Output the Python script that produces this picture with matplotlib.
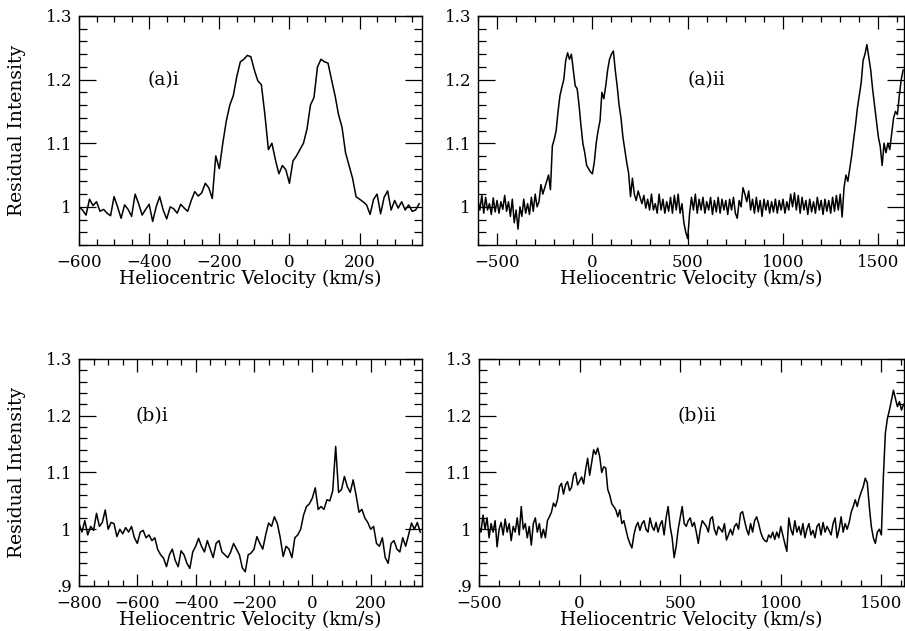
import matplotlib
matplotlib.use("Agg")
import matplotlib.pyplot as plt
import numpy as np
from matplotlib.ticker import MultipleLocator, FuncFormatter

plt.rcParams['font.family'] = ['DejaVu Serif']

# (a)i  -- velocity grid starts at -600 km/s, 10 km/s channels
a1_start, a1_step = -600, 10
a1_flux = [
    1.000, 0.995, 0.987, 1.012, 1.002, 1.008, 0.993, 0.996, 0.990, 0.986,
    1.016, 1.000, 0.982, 1.003, 0.996, 0.985, 1.020, 1.005, 0.987, 0.996,
    1.004, 0.977, 1.000, 1.016, 0.995, 0.981, 1.000, 0.997, 0.990, 1.004,
    0.998, 0.993, 1.010, 1.024, 1.017, 1.022, 1.037, 1.030, 1.013, 1.080,
    1.060, 1.100, 1.135, 1.160, 1.175, 1.205, 1.228, 1.232, 1.238, 1.236,
    1.215, 1.198, 1.192, 1.145, 1.090, 1.100, 1.074, 1.052, 1.065, 1.058,
    1.037, 1.072, 1.080, 1.090, 1.100, 1.122, 1.160, 1.172, 1.220, 1.232,
    1.228, 1.226, 1.200, 1.175, 1.145, 1.125, 1.085, 1.065, 1.045, 1.016,
    1.012, 1.008, 1.003, 0.988, 1.012, 1.020, 0.989, 1.015, 1.025, 0.995,
    1.010, 0.998, 1.008, 0.995, 1.003, 0.993, 0.995, 1.005,
]

# (a)ii
a2_start, a2_step = -600, 10
a2_flux = [
    1.010, 0.995, 1.018, 0.990, 1.015, 0.995, 1.005, 0.988, 1.014, 0.992,
    1.010, 0.990, 1.008, 0.996, 1.018, 0.993, 1.008, 0.985, 1.012, 0.975,
    0.995, 0.965, 1.000, 0.985, 1.012, 0.990, 1.005, 0.988, 1.015, 0.993,
    1.020, 1.000, 1.008, 1.035, 1.020, 1.030, 1.040, 1.050, 1.027, 1.096,
    1.106, 1.120, 1.150, 1.175, 1.188, 1.200, 1.230, 1.242, 1.232, 1.240,
    1.215, 1.190, 1.186, 1.160, 1.128, 1.100, 1.085, 1.065, 1.060, 1.055,
    1.052, 1.070, 1.100, 1.120, 1.135, 1.180, 1.170, 1.190, 1.215, 1.232,
    1.240, 1.245, 1.215, 1.190, 1.160, 1.140, 1.110, 1.090, 1.070, 1.053,
    1.016, 1.045, 1.020, 1.010, 1.025, 1.015, 1.005, 1.018, 0.998, 1.012,
    0.995, 1.020, 0.995, 1.005, 0.990, 1.020, 0.995, 1.012, 0.990, 1.008,
    0.993, 1.015, 0.990, 1.018, 0.995, 1.020, 0.990, 1.005, 0.975, 0.960,
    0.950, 0.990, 1.015, 0.995, 1.020, 0.990, 1.012, 0.995, 1.015, 0.990,
    1.008, 0.995, 1.015, 0.988, 1.010, 0.992, 1.015, 0.990, 1.012, 0.995,
    1.010, 0.988, 1.012, 0.995, 1.015, 0.990, 0.982, 1.010, 1.000, 1.030,
    1.020, 1.008, 1.025, 0.995, 1.012, 0.990, 1.015, 0.992, 1.010, 0.985,
    1.012, 0.995, 1.010, 0.990, 1.008, 0.992, 1.012, 0.990, 1.010, 0.995,
    1.012, 0.990, 1.008, 0.995, 1.020, 1.000, 1.022, 0.995, 1.018, 0.990,
    1.015, 0.995, 1.010, 0.988, 1.012, 0.992, 1.008, 0.990, 1.015, 0.995,
    1.010, 0.988, 1.012, 0.993, 1.010, 0.990, 1.015, 0.993, 1.018, 0.995,
    1.020, 0.984, 1.030, 1.050, 1.040, 1.060, 1.080, 1.105, 1.128, 1.155,
    1.175, 1.195, 1.230, 1.240, 1.255, 1.235, 1.215, 1.185, 1.160, 1.135,
    1.110, 1.095, 1.065, 1.100, 1.085, 1.100, 1.090, 1.115, 1.140, 1.150,
    1.145, 1.175, 1.200, 1.215,
]

# (b)i
b1_start, b1_step = -800, 10
b1_flux = [
    1.010, 0.995, 1.015, 0.990, 1.005, 0.998, 1.028, 1.005, 1.012, 1.034,
    1.000, 1.012, 1.010, 0.987, 1.000, 0.992, 1.003, 0.995, 1.005, 0.985,
    0.975, 0.995, 0.998, 0.985, 0.990, 0.980, 0.985, 0.964, 0.955, 0.949,
    0.934, 0.955, 0.965, 0.945, 0.934, 0.962, 0.955, 0.940, 0.931, 0.960,
    0.970, 0.984, 0.970, 0.960, 0.980, 0.965, 0.950, 0.975, 0.980, 0.960,
    0.955, 0.950, 0.960, 0.975, 0.965, 0.955, 0.932, 0.925, 0.955, 0.958,
    0.965, 0.987, 0.975, 0.965, 0.990, 1.011, 1.005, 1.022, 1.010, 0.985,
    0.952, 0.970, 0.965, 0.950, 0.985, 0.990, 1.000, 1.025, 1.040, 1.045,
    1.055, 1.073, 1.035, 1.040, 1.035, 1.052, 1.050, 1.068, 1.146, 1.065,
    1.070, 1.093, 1.075, 1.065, 1.087, 1.060, 1.030, 1.035, 1.020, 1.012,
    1.000, 1.005, 0.975, 0.970, 0.985, 0.950, 0.940, 0.975, 0.980, 0.965,
    0.960, 0.985, 0.970, 0.990, 1.011, 1.000, 1.012, 0.995,
]

# (b)ii
b2_start, b2_step = -500, 10
b2_flux = [
    1.005, 0.995, 1.025, 1.000, 1.020, 0.985, 1.010, 0.995, 1.015, 0.969,
    1.000, 1.012, 0.990, 1.018, 0.995, 1.010, 0.980, 1.005, 0.995, 1.020,
    0.990, 1.040, 1.000, 1.010, 0.985, 1.005, 0.972, 1.010, 1.020, 0.995,
    1.010, 0.985, 1.000, 0.985, 1.015, 1.022, 1.030, 1.046, 1.040, 1.052,
    1.075, 1.081, 1.062, 1.078, 1.084, 1.068, 1.074, 1.095, 1.100, 1.078,
    1.085, 1.092, 1.080, 1.105, 1.125, 1.095, 1.118, 1.140, 1.132, 1.143,
    1.128, 1.100, 1.110, 1.108, 1.070, 1.060, 1.045, 1.040, 1.034, 1.022,
    1.034, 1.010, 1.015, 1.000, 0.985, 0.975, 0.967, 0.990, 1.005, 1.012,
    0.998, 1.010, 1.015, 1.000, 0.995, 1.020, 1.005, 0.998, 1.012, 0.995,
    1.008, 1.015, 0.990, 1.020, 1.040, 1.005, 0.985, 0.950, 0.970, 1.000,
    1.020, 1.040, 1.010, 1.005, 1.015, 1.020, 1.005, 1.012, 0.995, 0.975,
    1.000, 1.015, 1.010, 1.005, 0.995, 1.018, 1.022, 1.000, 0.990, 1.005,
    1.000, 0.995, 1.010, 0.981, 0.990, 1.000, 0.990, 1.005, 1.010, 1.000,
    1.028, 1.031, 1.015, 1.000, 0.990, 1.010, 0.995, 1.015, 1.022, 1.010,
    0.995, 0.985, 0.980, 0.978, 0.990, 0.985, 0.995, 0.982, 0.995, 0.985,
    1.005, 0.990, 0.975, 0.961, 1.020, 1.000, 0.990, 1.015, 0.995, 1.005,
    0.990, 1.010, 0.985, 1.000, 1.010, 0.990, 0.998, 0.985, 1.005, 1.010,
    0.990, 1.012, 0.995, 1.005, 0.998, 0.990, 1.010, 1.020, 0.985, 1.000,
    1.022, 0.995, 1.010, 1.000, 1.012, 1.030, 1.040, 1.052, 1.040, 1.055,
    1.066, 1.075, 1.090, 1.082, 1.040, 1.005, 0.985, 0.975, 0.995, 1.000,
    0.990, 1.093, 1.170, 1.195, 1.210, 1.227, 1.245, 1.230, 1.216, 1.225,
    1.210, 1.220,
]

W, H = 905, 631
fig = plt.figure(figsize=(W / 100, H / 100), dpi=100)


def box(l, t, r, b):
    return [l / W, 1 - b / H, (r - l) / W, (b - t) / H]


def yfmt(v, pos):
    s = ('%.1f' % v)
    if s.endswith('.0'):
        s = s[:-2]
    if s.startswith('0'):
        s = s[1:]
    return s


panels = [
    (box(79, 16, 422, 245), a1_start, a1_step, a1_flux, (-600, 378), (0.94, 1.3), 200, 50, '(a)i', -358, True),
    (box(478, 16, 903.5, 245), a2_start, a2_step, a2_flux, (-600, 1632), (0.94, 1.3), 500, 100, '(a)ii', 597, False),
    (box(79, 359, 422, 586), b1_start, b1_step, b1_flux, (-800, 376), (0.9, 1.3), 200, 50, '(b)i', -550, True),
    (box(479, 359, 903.5, 586), b2_start, b2_step, b2_flux, (-500, 1610), (0.9, 1.3), 500, 100, '(b)ii', 581, False),
]

for rect, v0, dv, flux, xl, yl, xmaj, xmin, tag, tx, left in panels:
    ax = fig.add_axes(rect)
    vel = v0 + dv * np.arange(len(flux))
    ax.plot(vel, flux, color='black', lw=1.1)
    ax.set_xlim(*xl)
    ax.set_ylim(*yl)
    ax.xaxis.set_major_locator(MultipleLocator(xmaj))
    ax.xaxis.set_minor_locator(MultipleLocator(xmin))
    ax.yaxis.set_major_locator(MultipleLocator(0.1))
    ax.yaxis.set_minor_locator(MultipleLocator(0.02))
    ax.yaxis.set_major_formatter(FuncFormatter(yfmt))
    ax.tick_params(which='both', direction='in', top=True, right=True,
                   labelsize=12, width=0.9, color='black')
    ax.tick_params(axis='x', which='major', length=9, pad=6.5)
    ax.tick_params(axis='x', which='minor', length=4.5)
    ax.tick_params(axis='y', which='major', length=12, pad=5)
    ax.tick_params(axis='y', which='minor', length=5.5)
    for sp in ax.spines.values():
        sp.set_linewidth(1.0)
    ax.set_xlabel('Heliocentric Velocity (km/s)', fontsize=13.5)
    ax.xaxis.set_label_coords(0.5, -0.11)
    if left:
        ax.set_ylabel('Residual Intensity', fontsize=13.5)
        ax.yaxis.set_label_coords(-0.155, 0.5)
    ax.text(tx, 1.2, tag, fontsize=13.5, ha='center', va='center')

fig.savefig('out.png', dpi=100)
